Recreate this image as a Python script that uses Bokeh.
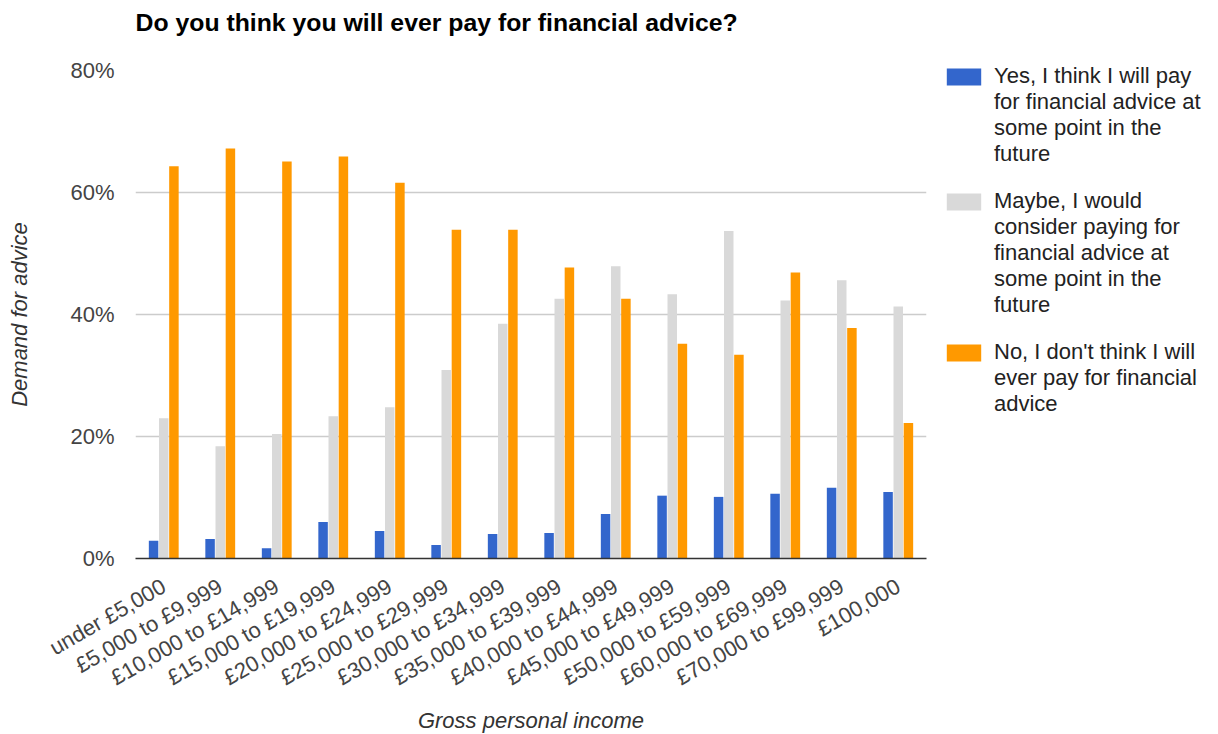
import math
from bokeh.plotting import figure
from bokeh.models import (ColumnDataSource, FactorRange, Range1d, Legend, LegendItem,
                          NumeralTickFormatter, FixedTicker, Title)
from bokeh.transform import dodge
from bokeh.embed import file_html
from bokeh.resources import INLINE

categories = ["under £5,000", "£5,000 to £9,999", "£10,000 to £14,999", "£15,000 to £19,999",
              "£20,000 to £24,999", "£25,000 to £29,999", "£30,000 to £34,999", "£35,000 to £39,999",
              "£40,000 to £44,999", "£45,000 to £49,999", "£50,000 to £59,999", "£60,000 to £69,999",
              "£70,000 to £99,999", "£100,000"]
yes_vals = [2.9, 3.2, 1.7, 6.0, 4.5, 2.2, 4.0, 4.2, 7.3, 10.3, 10.1, 10.6, 11.6, 10.9]
maybe_vals = [23.0, 18.4, 20.4, 23.3, 24.8, 30.9, 38.5, 42.6, 47.9, 43.3, 53.7, 42.3, 45.6, 41.3]
no_vals = [64.3, 67.2, 65.1, 65.9, 61.6, 53.9, 53.9, 47.7, 42.6, 35.2, 33.4, 46.9, 37.8, 22.2]
y_ticks = [0, 20, 40, 60, 80]

label_lines = [["Yes, I think I will pay", "for financial advice at", "some point in the", "future"],
               ["Maybe, I would", "consider paying for", "financial advice at", "some point in the", "future"],
               ["No, I don't think I will", "ever pay for financial", "advice"]]
colors = ["#3366cc", "#d9d9d9", "#ff9900"]

src = ColumnDataSource(dict(cat=categories,
                            yes=[v / 100 for v in yes_vals],
                            maybe=[v / 100 for v in maybe_vals],
                            no=[v / 100 for v in no_vals]))

FONT = "Liberation Sans"
FS = "22px"

p = figure(x_range=FactorRange(*categories, range_padding=0), y_range=Range1d(0, 0.8),
           frame_width=791, frame_height=488, output_backend="svg", toolbar_location=None,
           min_border_left=135, min_border_right=10, min_border_top=0, min_border_bottom=0,
           title="Do you think you will ever pay for financial advice?")
p.outline_line_color = None
p.title.text_font = FONT
p.title.text_font_size = "24.8px"
p.title.text_font_style = "bold"
p.title.text_color = "#000000"
p.title.vertical_align = "top"
p.title.standoff = 16
# empty spacer between the title and the plot area
p.add_layout(Title(text=" ", text_font_size="1px", standoff=22), "above")

w = 0.168
r1 = p.vbar(x=dodge("cat", -0.18, range=p.x_range), top="yes", width=w, source=src, color=colors[0], line_color=None)
r2 = p.vbar(x=dodge("cat", 0.0, range=p.x_range), top="maybe", width=w, source=src, color=colors[1], line_color=None)
r3 = p.vbar(x=dodge("cat", 0.18, range=p.x_range), top="no", width=w, source=src, color=colors[2], line_color=None)
# invisible renderer used for continuation lines of the legend labels
blank = p.vbar(x=[], top=[], width=w, fill_alpha=0, line_alpha=0)

p.yaxis.ticker = FixedTicker(ticks=[t / 100 for t in y_ticks])
p.yaxis.formatter = NumeralTickFormatter(format="0%")
p.yaxis.axis_line_color = None
p.yaxis.major_tick_line_color = None
p.yaxis.minor_tick_line_color = None
p.yaxis.major_label_text_font = FONT
p.yaxis.major_label_text_font_size = FS
p.yaxis.major_label_text_color = "#444444"
p.yaxis.major_label_standoff = 15
p.yaxis.axis_label = "Demand for advice"
p.yaxis.axis_label_text_font = FONT
p.yaxis.axis_label_text_font_size = FS
p.yaxis.axis_label_text_font_style = "italic"
p.yaxis.axis_label_text_color = "#333333"
p.yaxis.axis_label_standoff = 35

p.xaxis.axis_line_color = "#333333"
p.xaxis.axis_line_width = 1.5
p.xaxis.major_tick_line_color = None
p.xaxis.minor_tick_line_color = None
p.xaxis.major_label_orientation = math.radians(30)
p.xaxis.major_label_text_font = FONT
p.xaxis.major_label_text_font_size = FS
p.xaxis.major_label_text_color = "#444444"
p.xaxis.major_label_standoff = 20
p.xaxis.axis_label = "Gross personal income"
p.xaxis.axis_label_text_font = FONT
p.xaxis.axis_label_text_font_size = FS
p.xaxis.axis_label_text_font_style = "italic"
p.xaxis.axis_label_text_color = "#333333"
p.xaxis.axis_label_standoff = 4

p.xgrid.grid_line_color = None
p.ygrid.grid_line_color = "#cccccc"
p.ygrid.grid_line_width = 1.5

items = []
for i, (lines, r) in enumerate(zip(label_lines, [r1, r2, r3])):
    if i > 0:
        items.append(LegendItem(label="", renderers=[blank]))
    items.append(LegendItem(label=lines[0], renderers=[r]))
    items.append(LegendItem(label="\n".join(lines[1:]), renderers=[blank]))

legend = Legend(items=items, location=(16, 141), orientation="vertical")
legend.border_line_color = None
legend.background_fill_alpha = 0
legend.label_text_font = FONT
legend.label_text_font_size = FS
legend.label_text_color = "#222222"
legend.label_text_line_height = 1.275
legend.glyph_width = 43
legend.glyph_height = 21
legend.label_height = 8
legend.spacing = 0
legend.padding = 0
legend.margin = 0
legend.label_standoff = 9
p.add_layout(legend, "right")

open("out.html", "w").write(file_html(p, INLINE))
